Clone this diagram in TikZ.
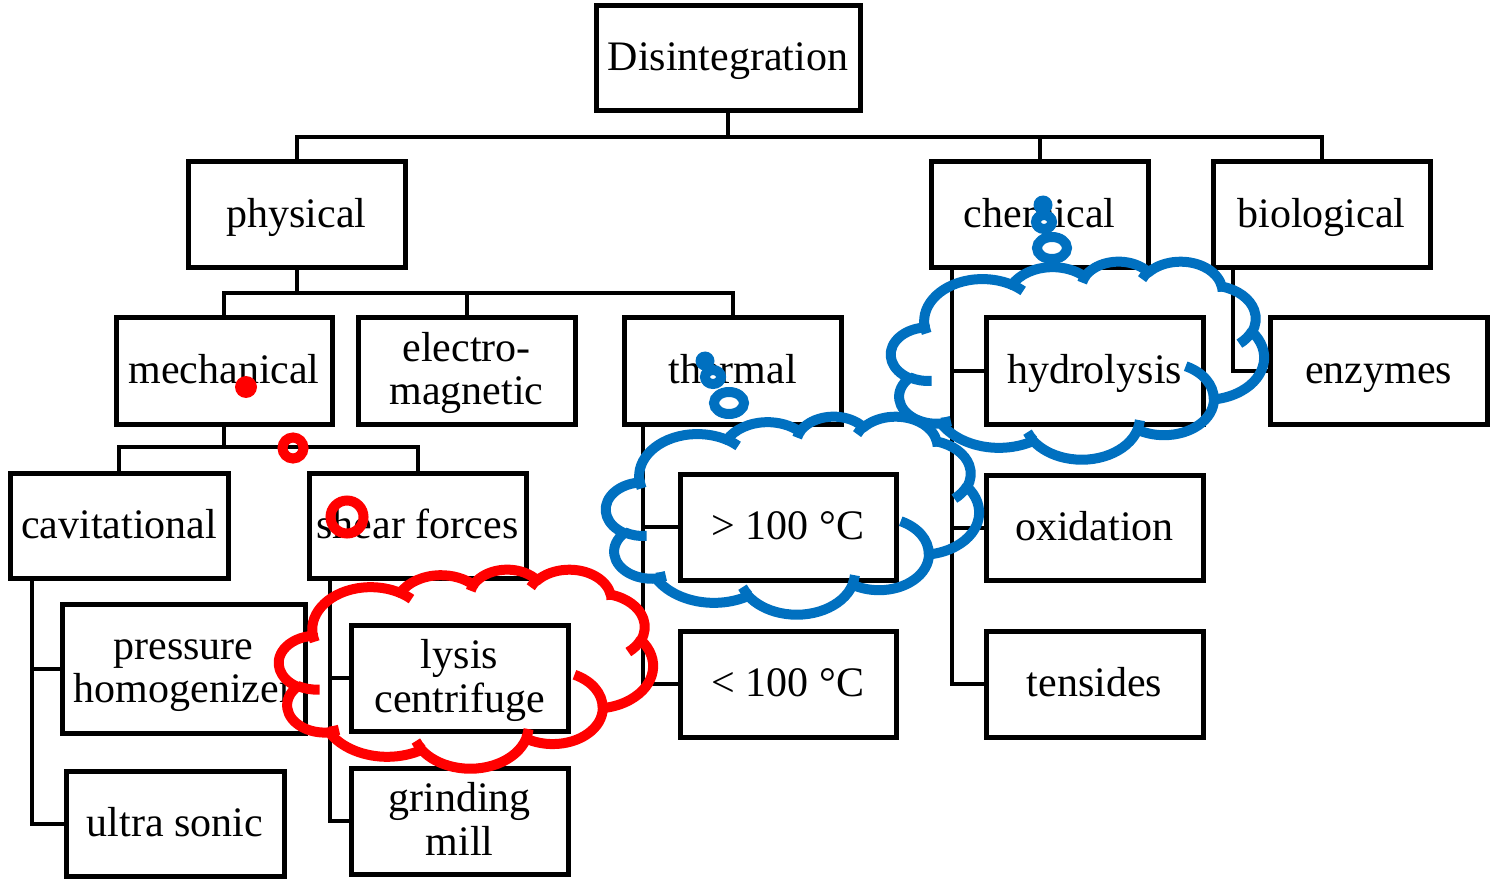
\documentclass[tikz,border=0pt]{standalone}
\usepackage{fontspec}
\setmainfont{Liberation Serif}
\definecolor{cred}{RGB}{255,0,0}
\definecolor{cblue}{RGB}{0,112,192}
% line strut: fixed height and depth for every text line
\newcommand\ls{\rule[-9pt]{0pt}{43pt}}
% elliptical arc: radii (#1,#2), start ray angle #3, sweep #4 (degrees);
% ray angles are turned into parametric angles before drawing
\newcommand\carc[4]{%
  \pgfextra{%
    \pgfmathsetmacro\cloudS{atan2((#1)*sin(#3),(#2)*cos(#3))}%
    \pgfmathsetmacro\cloudE{atan2((#1)*sin((#3)+(#4)),(#2)*cos((#3)+(#4)))}%
    \pgfmathsetmacro\cloudD{mod(\cloudE-\cloudS+720,360)}%
    \global\let\cloudS\cloudS \global\let\cloudD\cloudD}%
  arc[start angle=\cloudS, delta angle=\cloudD, x radius=#1, y radius=#2]}
% cloud outline in a 432 x 432 frame
\newcommand\cloudpath{%
  \draw[line join=round] (39.00,143.70)
    \carc{67.53}{91.90}{-190.4875}{123.7805}
    \carc{53.33}{72.67}{-144.1024}{89.9452}
    \carc{43.65}{59.45}{-145.8079}{99.7230}
    \carc{48.57}{65.95}{-130.9861}{117.2417}
    \carc{53.33}{72.73}{-78.7089}{109.0269}
    \carc{67.75}{92.20}{-46.2673}{130.2690}
    \carc{57.85}{78.67}{0.6250}{114.0333}
    \carc{67.52}{92.15}{22.4516}{115.1726}
    \carc{77.20}{105.43}{66.2426}{75.7110}
    \carc{43.60}{59.18}{-274.9421}{146.7356}
    \carc{43.45}{59.45}{-246.8285}{152.5189} -- cycle;
  \draw (46.93,261.77) \carc{43.45}{59.45}{86.7420}{26.4295};
  \draw (69.28,348.99) \carc{43.60}{59.18}{73.6105}{11.4475};
  \draw (164.78,390.90) \carc{67.52}{92.15}{137.6242}{14.0811};
  \draw (288.27,347.51) \carc{67.52}{92.15}{6.4533}{15.9984};
  \draw (341.29,229.54) \carc{57.85}{78.67}{-70.2924}{70.9174};
  \draw (417.98,153.54) \carc{53.33}{72.73}{30.3180}{27.7515};
  \draw (383.24,54.26) \carc{48.57}{65.95}{-13.7443}{14.8589};
  \draw (290.78,39.52) \carc{48.57}{65.95}{-149.1815}{18.1954};
  \draw (221.41,47.20) \carc{43.65}{59.45}{-163.4943}{17.6864};
  \draw (140.00,51.92) \carc{67.53}{91.90}{-66.7070}{12.3194};
  \draw (41.27,157.89) \carc{67.53}{91.90}{159.1199}{14.7507};
}
\tikzset{
  box/.style={draw, line width=5pt, inner sep=0pt, align=center,
    font=\fontsize{42}{43}\selectfont},
  conn/.style={line width=4pt},
  cloudframe/.style n args={4}{shift={(#1,#2)}, x={(#3pt/432,0pt)}, y={(0pt,-#4pt/432)}},
  callout/.style={line width=10pt}
}
\begin{document}
\begin{tikzpicture}[x=1pt, y=-1pt]
\useasboundingbox (0,0) rectangle (1491,882);

% tree boxes
\node[box, minimum width=264pt, minimum height=105pt] (dis) at (728,58.5) {\ls Disintegration};
\node[box, minimum width=217pt, minimum height=106pt] (phys) at (296.5,215) {\ls physical};
\node[box, minimum width=217pt, minimum height=106pt] (chem) at (1039.5,215) {\ls chemical};
\node[box, minimum width=217pt, minimum height=106pt] (bio) at (1321.5,215) {\ls biological};
\node[box, minimum width=216pt, minimum height=106pt] (mech) at (224,371) {\ls mechanical};
\node[box, minimum width=217pt, minimum height=106pt] (elec) at (466.5,371) {\ls electro-\\\ls magnetic};
\node[box, minimum width=217pt, minimum height=106pt] (therm) at (732.5,371) {\ls thermal};
\node[box, minimum width=218pt, minimum height=105pt] (cav) at (119,525.5) {\ls cavitational};
\node[box, minimum width=217pt, minimum height=105pt] (shear) at (417.5,525.5) {\ls shear forces};
\node[box, minimum width=243pt, minimum height=129pt] (pres) at (183.5,668.5) {\ls pressure\\\ls homogenizer};
\node[box, minimum width=218pt, minimum height=105pt] (ultra) at (175,823.5) {\ls ultra sonic};
\node[box, minimum width=217pt, minimum height=106pt] (lysis) at (459.5,678) {\ls lysis\\\ls centrifuge};
\node[box, minimum width=217pt, minimum height=106pt] (grind) at (459.5,821) {\ls grinding\\\ls mill};
\node[box, minimum width=216pt, minimum height=106pt] (hot) at (788,527) {\ls > 100 °C};
\node[box, minimum width=216pt, minimum height=106pt] (warm) at (788,684) {\ls < 100 °C};
\node[box, minimum width=217pt, minimum height=106pt] (hyd) at (1094.5,371) {\ls hydrolysis};
\node[box, minimum width=217pt, minimum height=105pt] (oxi) at (1094.5,527.5) {\ls oxidation};
\node[box, minimum width=217pt, minimum height=106pt] (tens) at (1094.5,684) {\ls tensides};
\node[box, minimum width=217pt, minimum height=106pt] (enz) at (1378.5,371) {\ls enzymes};

% bus connectors
\coordinate (j0) at (728,137);
\draw[conn] (dis.south) -- (j0) -| (phys.north);
\draw[conn] (j0) -| (chem.north);
\draw[conn] (j0) -| (bio.north);
\coordinate (j1) at (296.5,293);
\draw[conn] (phys.south) -- (j1) -| (mech.north);
\draw[conn] (j1) -| (elec.north);
\draw[conn] (j1) -| (therm.north);
\coordinate (j2) at (224,447);
\draw[conn] (mech.south) -- (j2) -| (cav.north);
\draw[conn] (j2) -| (shear.north);

% side-rail connectors
\draw[conn] (32,0 |- cav.south) |- (pres.west);
\draw[conn] (32,0 |- cav.south) |- (ultra.west);
\draw[conn] (330,0 |- shear.south) |- (lysis.west);
\draw[conn] (330,0 |- shear.south) |- (grind.west);
\draw[conn] (643,0 |- therm.south) |- (hot.west);
\draw[conn] (643,0 |- therm.south) |- (warm.west);
\draw[conn] (951.5,0 |- chem.south) |- (hyd.west);
\draw[conn] (951.5,0 |- chem.south) |- (oxi.west);
\draw[conn] (951.5,0 |- chem.south) |- (tens.west);
\draw[conn] (1233,0 |- bio.south) |- (enz.west);

% red callout on mechanical
\begin{scope}[cred, callout]
  \fill (246,387) circle[radius=11pt];
  \draw (293,448) circle[radius=10.5pt];
  \draw (347,517) circle[radius=16.5pt];
  \begin{scope}[cloudframe={279}{569}{374}{199}]
    \cloudpath
  \end{scope}
\end{scope}

% blue callout on thermal
\begin{scope}[cblue, callout]
  \fill (705,361) circle[radius=9.5pt];
  \draw (713,377) ellipse[x radius=8pt, y radius=7pt];
  \draw (729,403) ellipse[x radius=15pt, y radius=11pt];
  \begin{scope}[cloudframe={606}{416}{373}{198}]
    \cloudpath
  \end{scope}
\end{scope}

% blue callout on chemical
\begin{scope}[cblue, callout]
  \fill (1043,205) circle[radius=9.5pt];
  \draw (1044,222) ellipse[x radius=8pt, y radius=7pt];
  \draw (1052,248) ellipse[x radius=15pt, y radius=11pt];
  \begin{scope}[cloudframe={891}{261}{373}{198}]
    \cloudpath
  \end{scope}
\end{scope}
\end{tikzpicture}
\end{document}
